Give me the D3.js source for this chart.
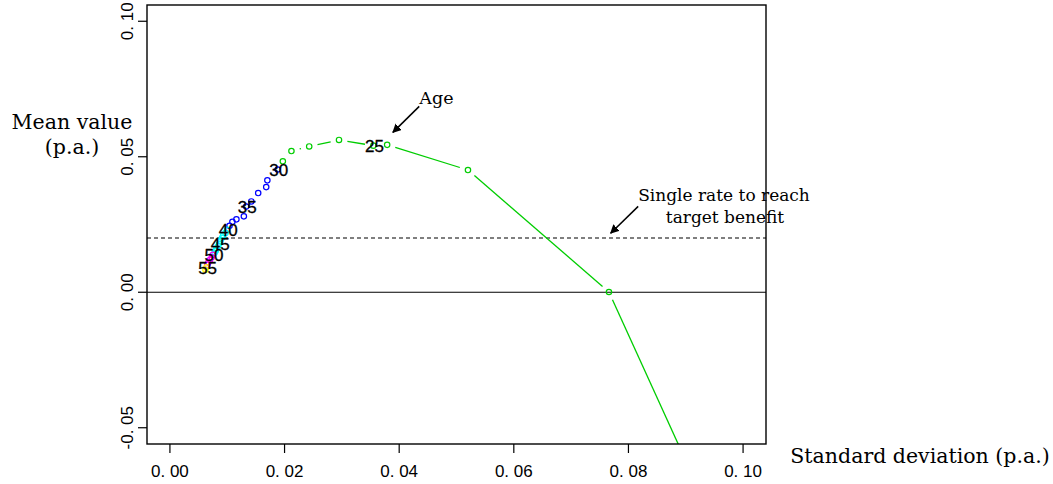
<!DOCTYPE html>
<html>
<head>
<meta charset="utf-8">
<script src="https://cdn.jsdelivr.net/npm/d3@7"></script>
<style>
  body { margin: 0; background: #fff; }
  svg { display: block; }
</style>
</head>
<body>
<div id="chart"></div>
<script>
// mean / sd of returns by age
const ages = [21, 22, 23, 24, 25, 26, 27, 28, 29,
  30, 31, 32, 33, 34, 35, 36, 37, 38, 39,
  40, 41, 42, 43, 44, 45, 46, 47, 48, 49,
  50, 51, 52, 53, 54, 55, 56];
const stdDev = [0.1000, 0.0766, 0.0520, 0.0379, 0.0355, 0.0295, 0.0243, 0.0212, 0.0197,
  0.0188, 0.0170, 0.0168, 0.0154, 0.0142, 0.0133, 0.0129, 0.0116, 0.0109, 0.0104,
  0.0100, 0.0097, 0.0093, 0.0091, 0.0088, 0.0086, 0.0084, 0.0081, 0.0080, 0.0078,
  0.0075, 0.0073, 0.0070, 0.0067, 0.0065, 0.0064, 0.0062];
const meanVal = [-0.1086, 0.0001, 0.0451, 0.0544, 0.0541, 0.0562, 0.0538, 0.0521, 0.0483,
  0.0453, 0.0413, 0.0388, 0.0366, 0.0335, 0.0316, 0.0280, 0.0269, 0.0260, 0.0245,
  0.0230, 0.0219, 0.0210, 0.0201, 0.0190, 0.0179, 0.0170, 0.0160, 0.0153, 0.0146,
  0.0138, 0.0129, 0.0120, 0.0110, 0.0101, 0.0092, 0.0083];

const ageBreaks = [30, 40, 50, 55];
const bandColors = ['#00cd00', '#0000ff', '#00ffff', '#ff00ff', '#ffff00'];
const labelledAges = [25, 30, 35, 40, 45, 50, 55];

const xTicks = [0, 0.02, 0.04, 0.06, 0.08, 0.10];
const xTickLabels = ['0. 00', '0. 02', '0. 04', '0. 06', '0. 08', '0. 10'];
const yTicks = [-0.05, 0, 0.05, 0.10];
const yTickLabels = ['-0. 05', '0. 00', '0. 05', '0. 10'];
const targetRate = 0.02;

const W = 1053, H = 484;
const box = { left: 147, right: 766, top: 5, bottom: 444 };

const svg = d3.select('#chart').append('svg')
  .attr('width', W).attr('height', H);

const x = d3.scaleLinear().domain([-0.004, 0.104]).range([box.left, box.right]);
const y = d3.scaleLinear().domain([-0.056, 0.106]).range([box.bottom, box.top]);
const colour = d3.scaleThreshold().domain(ageBreaks).range(bandColors);

const serif = '"DejaVu Serif", serif';
const sans = '"Liberation Sans", Arial, sans-serif';

svg.append('clipPath').attr('id', 'plotclip')
  .append('rect')
  .attr('x', box.left).attr('y', box.top)
  .attr('width', box.right - box.left).attr('height', box.bottom - box.top);

const pts = ages.map((a, i) => ({ age: a, sd: stdDev[i], m: meanVal[i] }));

// reference lines
svg.append('line')
  .attr('x1', box.left).attr('x2', box.right)
  .attr('y1', y(0)).attr('y2', y(0))
  .attr('stroke', '#000').attr('stroke-width', 1.2);

svg.append('line')
  .attr('x1', box.left).attr('x2', box.right)
  .attr('y1', y(targetRate)).attr('y2', y(targetRate))
  .attr('stroke', '#000').attr('stroke-width', 1.1)
  .attr('stroke-dasharray', '4,3');

// green line with gaps round the points (R type = "b")
const young = pts.filter(d => d.age < ageBreaks[0]);
const gap = 8.5;
const lineG = svg.append('g').attr('clip-path', 'url(#plotclip)');
for (let i = 0; i < young.length - 1; i++) {
  const x1 = x(young[i].sd), y1 = y(young[i].m);
  const x2 = x(young[i + 1].sd), y2 = y(young[i + 1].m);
  const d = Math.hypot(x2 - x1, y2 - y1);
  if (d <= 2 * gap) continue;
  const ux = (x2 - x1) / d, uy = (y2 - y1) / d;
  lineG.append('line')
    .attr('x1', x1 + ux * gap).attr('y1', y1 + uy * gap)
    .attr('x2', x2 - ux * gap).attr('y2', y2 - uy * gap)
    .attr('stroke', bandColors[0]).attr('stroke-width', 1.3);
}

// points
svg.append('g').attr('clip-path', 'url(#plotclip)')
  .selectAll('circle')
  .data(pts)
  .join('circle')
  .attr('cx', d => x(d.sd))
  .attr('cy', d => y(d.m))
  .attr('r', 2.7)
  .attr('fill', 'none')
  .attr('stroke', d => colour(d.age))
  .attr('stroke-width', 1.2);

// age labels
svg.append('g')
  .selectAll('text')
  .data(pts.filter(d => labelledAges.includes(d.age)))
  .join('text')
  .attr('x', d => x(d.sd) + 1)
  .attr('y', d => y(d.m) + 6.5)
  .attr('text-anchor', 'middle')
  .style('font-family', sans)
  .style('font-size', '17px')
  .style('fill', '#000')
  .style('stroke', '#000')
  .style('stroke-width', 0.3)
  .text(d => d.age);

// box
svg.append('rect')
  .attr('x', box.left).attr('y', box.top)
  .attr('width', box.right - box.left).attr('height', box.bottom - box.top)
  .attr('fill', 'none').attr('stroke', '#000').attr('stroke-width', 1.4);

// x axis
const xa = svg.append('g');
xa.selectAll('line').data(xTicks).join('line')
  .attr('x1', d => x(d)).attr('x2', d => x(d))
  .attr('y1', box.bottom).attr('y2', box.bottom + 9)
  .attr('stroke', '#000').attr('stroke-width', 1.2);
xa.selectAll('text').data(xTicks).join('text')
  .attr('x', d => x(d)).attr('y', 477)
  .attr('text-anchor', 'middle')
  .style('font-family', sans).style('font-size', '17px')
  .text((d, i) => xTickLabels[i]);

// y axis
const ya = svg.append('g');
ya.selectAll('line').data(yTicks).join('line')
  .attr('x1', box.left - 9).attr('x2', box.left)
  .attr('y1', d => y(d)).attr('y2', d => y(d))
  .attr('stroke', '#000').attr('stroke-width', 1.2);
ya.selectAll('text').data(yTicks).join('text')
  .attr('transform', d => `translate(133,${y(d)}) rotate(-90)`)
  .attr('text-anchor', 'middle')
  .style('font-family', sans).style('font-size', '17px')
  .text((d, i) => yTickLabels[i]);

// axis titles
svg.append('text')
  .attr('x', 72).attr('y', 129)
  .attr('text-anchor', 'middle')
  .style('font-family', serif).style('font-size', '20.5px')
  .text('Mean value');
svg.append('text')
  .attr('x', 72).attr('y', 154)
  .attr('text-anchor', 'middle')
  .style('font-family', serif).style('font-size', '20.5px')
  .text('(p.a.)');
svg.append('text')
  .attr('x', 920).attr('y', 463)
  .attr('text-anchor', 'middle')
  .style('font-family', serif).style('font-size', '20.5px')
  .text('Standard deviation (p.a.)');

// annotations
const defs = svg.append('defs');
defs.append('marker')
  .attr('id', 'head')
  .attr('viewBox', '0 0 10 10')
  .attr('refX', 9).attr('refY', 5)
  .attr('markerWidth', 9).attr('markerHeight', 9)
  .attr('markerUnits', 'userSpaceOnUse')
  .attr('orient', 'auto')
  .append('path').attr('d', 'M0,0 L10,5 L0,10 z').attr('fill', '#000');

function arrow(fx, fy, tx, ty) {
  svg.append('line')
    .attr('x1', x(fx)).attr('y1', y(fy))
    .attr('x2', x(tx)).attr('y2', y(ty))
    .attr('stroke', '#000').attr('stroke-width', 1.5)
    .attr('marker-end', 'url(#head)');
}

svg.append('text')
  .attr('x', x(0.0465)).attr('y', y(0.0693))
  .attr('text-anchor', 'middle')
  .style('font-family', serif).style('font-size', '17.5px')
  .text('Age');
arrow(0.0435, 0.0686, 0.0389, 0.0590);

svg.append('text')
  .attr('x', 724).attr('y', 201)
  .attr('text-anchor', 'middle')
  .style('font-family', serif).style('font-size', '17px')
  .text('Single rate to reach');
svg.append('text')
  .attr('x', 725).attr('y', 223)
  .attr('text-anchor', 'middle')
  .style('font-family', serif).style('font-size', '17px')
  .text('target benefit');
arrow(0.0817, 0.0317, 0.0769, 0.0218);
</script>
</body>
</html>
